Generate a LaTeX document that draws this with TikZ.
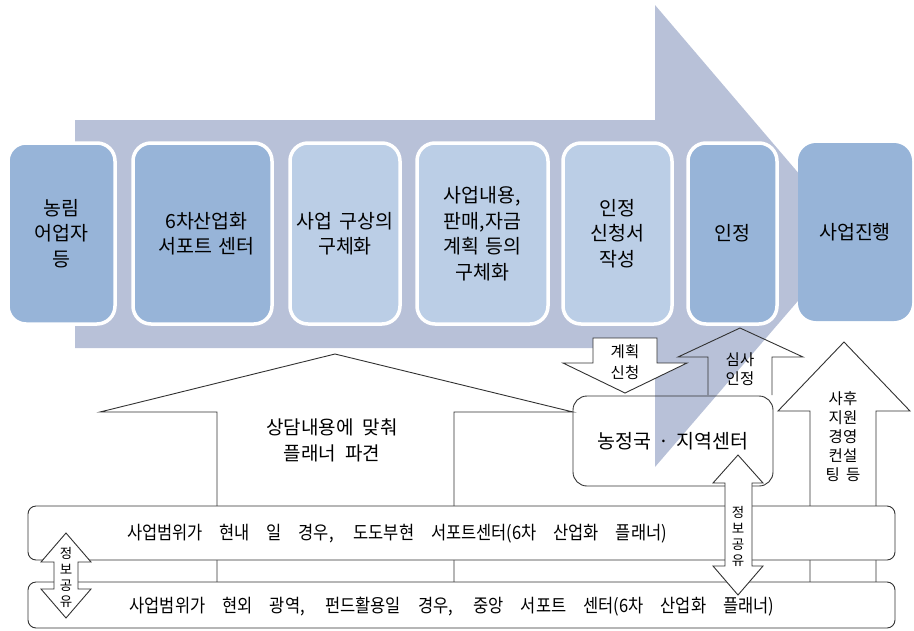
\documentclass[tikz,border=0pt]{standalone}
\usepackage{graphicx}
\usepackage{fontspec}
\setmainfont{Noto Sans CJK KR}
\newcommand\gp[1]{\hspace*{#1pt}}
\definecolor{arrowgray}{RGB}{184,193,216}
\definecolor{boxdark}{RGB}{151,180,216}
\definecolor{boxlight}{RGB}{187,206,230}
\definecolor{linegray}{RGB}{50,50,50}
\begin{document}
\begin{tikzpicture}[x=1pt,y=-1pt,
  stagebox/.style={rounded corners=18pt, draw=white, line width=3.5pt, minimum height=181pt, inner sep=0pt, align=center, font=\fontsize{19.5}{25.5}\selectfont},
  darkbox/.style={stagebox, fill=boxdark},
  lightbox/.style={stagebox, fill=boxlight},
  outl/.style={draw=linegray, line width=0.9pt, line join=miter},
  barbox/.style={draw=linegray, line width=0.9pt, fill=white, rounded corners=8pt, minimum width=867pt, inner sep=0pt},
  bartext/.style={font=\fontsize{16.5}{18}\selectfont, inner sep=0pt},
  smalltext/.style={align=center, font=\fontsize{15.5}{19}\selectfont, inner sep=0pt},
  vtext/.style={align=center, font=\fontsize{13.5}{16}\selectfont, inner sep=0pt},
  midtext/.style={align=center, font=\fontsize{19}{26}\selectfont, inner sep=0pt}
]
\useasboundingbox (0,0) rectangle (914,630);

% big process arrow
\fill[arrowgray] (75,120) -- (655,120) -- (655,5) -- (853,237) -- (655,467) -- (655,348) -- (75,348) -- cycle;

% stage boxes
\node[darkbox, minimum width=107pt] (b1) at (61.5,233.5) {농림\\어업자\\등};
\node[darkbox, minimum width=139pt] (b2) at (202.5,233.5) {\gp{8}6차산업화\\\gp{8}서포트\gp{7}센터};
\node[lightbox, minimum width=110pt] (b3) at (345,233.5) {사업\gp{7}구상의\\구체화};
\node[lightbox, minimum width=131pt] (b4) at (482.5,233.5) {사업내용,\\판매,자금\\계획\gp{7}등의\\구체화};
\node[lightbox, minimum width=109pt] (b5) at (617.5,233.5) {인정\\신청서\\작성};
\node[darkbox, minimum width=89pt] (b6) at (732.5,233.5) {인정};
\node[stagebox, draw=none, fill=boxdark, minimum width=114pt, minimum height=178pt] (b7) at (855,232) {사업진행};

% consulting arrow
\draw[outl, fill=white] (217,582) -- (217,412) -- (100,412) -- (335,354) -- (573,412) -- (454,412) -- (454,582);
\node[midtext] (consult) at (332,440) {상담내용에\gp{9}맞춰\\플래너\gp{9}파견};

% after-support arrow
\draw[outl, fill=white] (810,582) -- (810,411) -- (778,411) -- (844,342) -- (910,411) -- (876,411) -- (876,582);
\node[smalltext] (after) at (843,437) {사후\\지원\\경영\\컨설\\팅\gp{6}등};

% review arrow (no fill)
\draw[outl] (708,395) -- (708,357) -- (678,357) -- (740,328) -- (803,357) -- (772,357) -- (772,395);
\node[smalltext] (review) at (740,369) {심사\\인정};

% plan arrow
\draw[outl, fill=white] (593,338) -- (657,338) -- (657,363) -- (687,363) -- (625,393) -- (563,363) -- (593,363) -- cycle;
\node[smalltext, font=\fontsize{15.5}{20.5}\selectfont] (plan) at (625,362) {계획\\신청};

% agency box
\node[draw=linegray, line width=0.9pt, rounded corners=14pt, minimum width=200pt, minimum height=90pt, inner sep=0pt, font=\fontsize{19.5}{20}\selectfont] (nj) at (673,441) {농정국\gp{7}·\gp{7}지역센터};

% bars
\node[barbox, minimum height=54pt] (bar1) at (461.5,533) {};
\node[bartext] (bar1t) at (397,534) {\scalebox{1}[1.12]{\makebox[540pt][s]{사업범위가 현내 일 경우, 도도부현 서포트센터(6차 산업화 플래너)}}};
\node[barbox, minimum height=46pt] (bar2) at (461.5,605) {};
\node[bartext] (bar2t) at (452,607) {\scalebox{1}[1.12]{\makebox[645pt][s]{사업범위가 현외 광역, 펀드활용일 경우, 중앙 서포트 센터(6차 산업화 플래너)}}};

% information-sharing double arrows
\draw[outl, fill=white] (66,533) -- (91,562) -- (78,562) -- (78,589) -- (91,589) -- (66,618) -- (41,589) -- (54,589) -- (54,562) -- (41,562) -- cycle;
\node[vtext] (info1) at (66,577) {정\\보\\공\\유};
\draw[outl, fill=white] (738,455) -- (763,483) -- (752,483) -- (752,566) -- (763,566) -- (738,595) -- (713,566) -- (725,566) -- (725,483) -- (713,483) -- cycle;
\node[vtext] (info2) at (738,536) {정\\보\\공\\유};
\end{tikzpicture}
\end{document}
